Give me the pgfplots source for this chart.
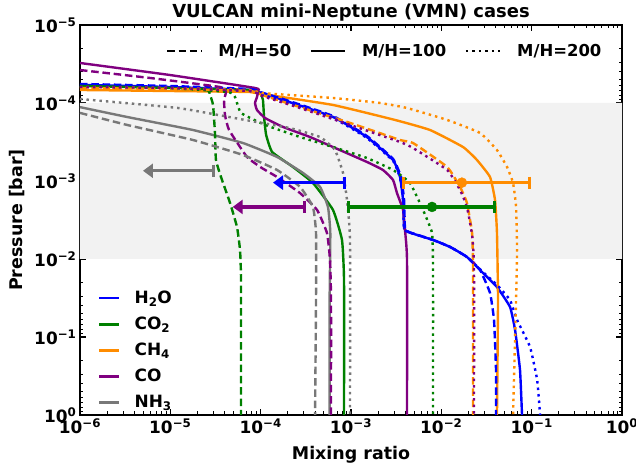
\documentclass[border=0pt]{standalone}
\usepackage{pgfplots}
\pgfplotsset{compat=1.18}
\usepackage{fontspec}
\setmainfont{DejaVu Sans}
\usetikzlibrary{arrows.meta}
\definecolor{cblue}{RGB}{0,0,255}
\definecolor{cgreen}{RGB}{0,128,0}
\definecolor{corange}{RGB}{255,140,0}
\definecolor{cpurple}{RGB}{128,0,128}
\definecolor{cgray}{RGB}{120,120,120}
\definecolor{band}{RGB}{242,242,242}
\newcommand{\fs}[1]{\fontsize{#1}{#1}\selectfont\bfseries}
\pgfplotsset{
  sol/.style={line width=2.4bp, forget plot, smooth, tension=0.25},
  das/.style={line width=2.4bp, dash pattern=on 7.5bp off 3.8bp, forget plot, smooth, tension=0.25},
  dot/.style={line width=2.4bp, dash pattern=on 2.5bp off 4bp, forget plot, smooth, tension=0.25},
  arr/.style={line width=3.4bp, forget plot},
}
\begin{document}
\begin{tikzpicture}[x=1bp,y=1bp]
\path[use as bounding box] (0,0) rectangle (636,468);
\begin{axis}[
  at={(80bp,53bp)}, anchor=south west,
  scale only axis, width=542bp, height=390bp,
  xmode=log, ymode=log, y dir=reverse,
  xmin=1e-6, xmax=1, ymin=1e-5, ymax=1,
  xtick={1e-6,1e-5,1e-4,1e-3,1e-2,1e-1,1},
  xticklabels={10\textsuperscript{−6},10\textsuperscript{−5},10\textsuperscript{−4},10\textsuperscript{−3},10\textsuperscript{−2},10\textsuperscript{−1},10\textsuperscript{0}},
  ytick={1e-5,1e-4,1e-3,1e-2,1e-1,1},
  yticklabels={10\textsuperscript{−5},10\textsuperscript{−4},10\textsuperscript{−3},10\textsuperscript{−2},10\textsuperscript{−1},10\textsuperscript{0}},
  minor xtick={2e-6,3e-6,4e-6,5e-6,6e-6,7e-6,8e-6,9e-6,2e-5,3e-5,4e-5,5e-5,6e-5,7e-5,8e-5,9e-5,2e-4,3e-4,4e-4,5e-4,6e-4,7e-4,8e-4,9e-4,2e-3,3e-3,4e-3,5e-3,6e-3,7e-3,8e-3,9e-3,2e-2,3e-2,4e-2,5e-2,6e-2,7e-2,8e-2,9e-2,0.2,0.3,0.4,0.5,0.6,0.7,0.8,0.9},
  minor ytick={2e-5,3e-5,4e-5,5e-5,6e-5,7e-5,8e-5,9e-5,2e-4,3e-4,4e-4,5e-4,6e-4,7e-4,8e-4,9e-4,2e-3,3e-3,4e-3,5e-3,6e-3,7e-3,8e-3,9e-3,2e-2,3e-2,4e-2,5e-2,6e-2,7e-2,8e-2,9e-2,0.2,0.3,0.4,0.5,0.6,0.7,0.8,0.9},
  tick pos=both, tick align=inside,
  major tick length=6bp, minor tick length=3.5bp,
  major tick style={line width=1.5bp, black},
  minor tick style={line width=1bp, black},
  axis line style={line width=2bp},
  tick label style={font=\fs{17}},
  xlabel={Mixing ratio}, ylabel={Pressure [bar]},
  label style={font=\fs{17.5}},
  xlabel style={at={(axis description cs:0.5,-0.1026)}, anchor=center},
  ylabel style={at={(axis description cs:-0.1162,0.5)}, anchor=center},
  clip mode=individual,
  legend style={draw=none, fill=none, at={(0.033,0.323)}, anchor=north west,
    font=\fs{17}, inner sep=0pt, row sep=8bp,
    /tikz/every odd column/.append style={column sep=12bp}},
  legend cell align=left,
  legend image code/.code={\draw[#1, line width=2.5bp] (0bp,0bp) -- (20bp,0bp);},
]
% shaded pressure band
\addplot[draw=none, fill=band, forget plot] coordinates {(1e-6,1e-4) (1,1e-4) (1,1e-2) (1e-6,1e-2) (1e-6,1e-4)};

% ---------- M/H = 100 (solid) ----------
\addplot[cblue, sol] coordinates {(1e-6,5.87e-5) (9.91e-6,6.24e-5) (7.62e-5,6.81e-5) (9.84e-5,7.45e-5) (1.77e-4,9.15e-5) (6.32e-4,1.51e-4) (1.50e-3,2.73e-4) (2.92e-3,5.38e-4) (3.49e-3,8.89e-4) (3.77e-3,1.75e-3) (3.87e-3,4.01e-3) (4.28e-3,4.51e-3) (8.09e-3,5.70e-3) (1.25e-2,7.01e-3) (1.92e-2,9.42e-3) (2.89e-2,1.51e-2) (4.13e-2,2.29e-2) (5.76e-2,4.12e-2) (6.55e-2,8.13e-2) (7.43e-2,0.265) (7.82e-2,1)};
\addplot[cgreen, sol] coordinates {(1e-6,6.05e-5) (9.91e-6,6.42e-5) (7.62e-5,6.81e-5) (9.84e-5,7.45e-5) (1.06e-4,9.15e-5) (1.09e-4,1.51e-4) (1.15e-4,2.57e-4) (1.34e-4,4.25e-4) (2.28e-4,6.62e-4) (3.79e-4,1.06e-3) (6.32e-4,2.35e-3) (7.95e-4,5.70e-3) (8.37e-4,1.86e-2) (8.37e-4,1)};
\addplot[corange, sol] coordinates {(1e-6,6.81e-5) (9.91e-6,7.02e-5) (7.62e-5,7.23e-5) (1.03e-4,7.67e-5) (6.32e-4,1.06e-4) (3.07e-3,1.65e-4) (7.50e-3,2.22e-4) (1.74e-2,3.67e-4) (2.48e-2,5.38e-4) (3.46e-2,8.89e-4) (3.93e-2,1.75e-3) (4.13e-2,4.64e-3) (4.24e-2,3.36e-2) (4.13e-2,1)};
\addplot[cpurple, sol] coordinates {(1e-6,3.07e-5) (9.91e-6,4.38e-5) (8.66e-5,6.42e-5) (9.35e-5,7.02e-5) (9.11e-5,8.38e-5) (8.66e-5,1.0e-4) (9.11e-5,1.23e-4) (1.12e-4,1.56e-4) (1.77e-4,2.03e-4) (3.52e-4,2.73e-4) (6.32e-4,3.67e-4) (1.50e-3,5.70e-4) (2.26e-3,7.23e-4) (2.92e-3,9.70e-4) (3.23e-3,1.43e-3) (3.77e-3,2.35e-3) (3.96e-3,4.25e-3) (4.17e-3,1.03e-2) (4.17e-3,1)};
\addplot[cgray, sol] coordinates {(1e-6,1.13e-4) (3.31e-6,1.51e-4) (1.78e-5,2.22e-4) (6.37e-5,3.26e-4) (1.52e-4,4.92e-4) (2.94e-4,7.89e-4) (4.54e-4,1.19e-3) (5.56e-4,2.15e-3) (5.9e-4,4.64e-3) (5.8e-4,3.36e-2) (5.8e-4,1)};

% ---------- M/H = 50 (dashed) ----------
\addplot[cblue, das] coordinates {(1e-6,5.70e-5) (9.91e-6,6.05e-5) (7.62e-5,6.62e-5) (9.84e-5,7.23e-5) (1.77e-4,8.89e-5) (6.32e-4,1.47e-4) (1.50e-3,2.65e-4) (2.92e-3,5.22e-4) (3.58e-3,8.89e-4) (3.87e-3,1.75e-3) (3.96e-3,4.01e-3) (4.39e-3,4.51e-3) (8.09e-3,5.70e-3) (1.25e-2,7.01e-3) (1.92e-2,9.42e-3) (2.68e-2,1.38e-2) (3.46e-2,2.73e-2) (3.83e-2,6.05e-2) (4.03e-2,0.265) (4.03e-2,1)};
\addplot[cgreen, das] coordinates {(1e-6,6.05e-5) (5.96e-6,6.42e-5) (2.48e-5,6.81e-5) (2.75e-5,7.89e-5) (2.97e-5,1.06e-4) (3.12e-5,2.42e-4) (3.20e-5,5.38e-4) (3.64e-5,8.89e-4) (4.58e-5,1.91e-3) (5.47e-5,3.89e-3) (5.91e-5,7.67e-3) (6.06e-5,1.86e-2) (6.06e-5,1)};
\addplot[corange, das] coordinates {(1e-6,6.42e-5) (9.91e-6,6.62e-5) (7.62e-5,7.02e-5) (1.03e-4,7.89e-5) (2.73e-4,1.13e-4) (9.75e-4,1.80e-4) (3.49e-3,2.98e-4) (4.86e-3,3.26e-4) (1.16e-2,6.62e-4) (1.61e-2,1.19e-3) (1.92e-2,1.91e-3) (2.19e-2,4.64e-3) (2.24e-2,1.27e-2) (2.24e-2,1)};
\addplot[cpurple, das] coordinates {(1e-6,3.78e-5) (5.96e-6,4.78e-5) (3.55e-5,6.24e-5) (4.13e-5,7.23e-5) (3.93e-5,9.15e-5) (4.03e-5,1.43e-4) (4.47e-5,2.22e-4) (7.06e-5,4.92e-4) (1.03e-4,6.81e-4) (1.52e-4,8.89e-4) (2.73e-4,1.43e-3) (4.21e-4,2.35e-3) (5.42e-4,4.64e-3) (5.86e-4,1.03e-2) (6.01e-4,3.36e-2) (6.01e-4,1)};
\addplot[cgray, das] coordinates {(1e-6,1.34e-4) (3.31e-6,1.91e-4) (1.78e-5,2.98e-4) (6.37e-5,4.64e-4) (1.52e-4,7.23e-4) (2.73e-4,1.19e-3) (3.79e-4,2.15e-3) (4.10e-4,4.64e-3) (4.10e-4,3.36e-2) (4.0e-4,1)};

% ---------- M/H = 200 (dotted) ----------
\addplot[cblue, dot] coordinates {(1e-6,6.05e-5) (9.91e-6,6.42e-5) (7.62e-5,7.02e-5) (9.84e-5,7.67e-5) (1.77e-4,9.43e-5) (6.32e-4,1.56e-4) (1.50e-3,2.81e-4) (2.92e-3,5.54e-4) (3.49e-3,9.16e-4) (3.77e-3,1.75e-3) (3.87e-3,4.01e-3) (4.28e-3,4.51e-3) (8.09e-3,5.70e-3) (1.25e-2,7.01e-3) (1.92e-2,9.42e-3) (2.89e-2,1.47e-2) (4.13e-2,2.15e-2) (5.76e-2,3.36e-2) (6.89e-2,6.05e-2) (9.59e-2,0.134) (0.115,0.356) (0.124,1)};
\addplot[cgreen, dot] coordinates {(1e-6,6.05e-5) (9.91e-6,6.42e-5) (4.35e-5,7.23e-5) (5.20e-5,8.38e-5) (6.06e-5,1.34e-4) (1.12e-4,1.91e-4) (2.73e-4,2.73e-4) (6.32e-4,3.67e-4) (1.50e-3,5.07e-4) (2.92e-3,7.23e-4) (4.50e-3,1.06e-3) (6.27e-3,2.35e-3) (7.89e-3,4.64e-3) (8.09e-3,1.27e-2) (8.09e-3,1)};
\addplot[corange, dot] coordinates {(1e-6,6.24e-5) (9.91e-6,6.42e-5) (7.62e-5,6.81e-5) (1.03e-4,7.45e-5) (6.32e-4,8.63e-5) (2.10e-3,1.0e-4) (4.17e-3,1.16e-4) (1.16e-2,1.65e-4) (2.68e-2,2.42e-4) (4.13e-2,4.01e-4) (5.34e-2,6.62e-4) (6.22e-2,1.06e-3) (6.72e-2,2.15e-3) (6.89e-2,7.67e-3) (6.72e-2,3.36e-2) (6.22e-2,1)};
\addplot[cpurple, dot] coordinates {(1e-6,6.24e-5) (9.91e-6,6.42e-5) (7.62e-5,7.02e-5) (1.03e-4,8.13e-5) (2.73e-4,1.16e-4) (9.75e-4,1.91e-4) (3.49e-3,3.16e-4) (4.86e-3,3.78e-4) (1.16e-2,7.23e-4) (1.61e-2,1.30e-3) (1.92e-2,2.15e-3) (2.19e-2,4.92e-3) (2.30e-2,1.27e-2) (2.30e-2,1)};
\addplot[cgray, dot] coordinates {(1e-6,8.89e-5) (1.22e-5,1.16e-4) (6.71e-5,1.65e-4) (2.11e-4,2.10e-4) (4.54e-4,2.73e-4) (6.65e-4,4.01e-4) (8.16e-4,7.89e-4) (9.03e-4,1.75e-3) (9.75e-4,5.70e-3) (9.75e-4,1)};

% ---------- observational constraints ----------
\addplot[cgray, arr, {Bar[width=12bp]}-{Triangle[width=14bp,length=10bp]}] coordinates {(3.12e-5,7.4e-4) (4.98e-6,7.4e-4)};
\addplot[cblue, arr, {Bar[width=12bp]}-{Triangle[width=14bp,length=10bp]}] coordinates {(8.81e-4,1.05e-3) (1.37e-4,1.05e-3)};
\addplot[cpurple, arr, {Bar[width=12bp]}-{Triangle[width=14bp,length=10bp]}] coordinates {(3.18e-4,2.15e-3) (4.9e-5,2.15e-3)};
\addplot[corange, arr, {Bar[width=12bp]}-{Bar[width=12bp]}] coordinates {(3.67e-3,1.05e-3) (9.9e-2,1.05e-3)};
\addplot[corange, only marks, mark=*, mark size=5bp, forget plot] coordinates {(1.69e-2,1.05e-3)};
\addplot[cgreen, arr, {Bar[width=12bp]}-{Bar[width=12bp]}] coordinates {(9.03e-4,2.15e-3) (4.03e-2,2.15e-3)};
\addplot[cgreen, only marks, mark=*, mark size=5bp, forget plot] coordinates {(7.89e-3,2.15e-3)};

% colour legend
\addlegendimage{cblue}\addlegendentry{H\textsubscript{2}O}
\addlegendimage{cgreen}\addlegendentry{CO\textsubscript{2}}
\addlegendimage{corange}\addlegendentry{CH\textsubscript{4}}
\addlegendimage{cpurple}\addlegendentry{CO}
\addlegendimage{cgray}\addlegendentry{NH\textsubscript{3}}

% title
\node[font=\fs{18}, anchor=center] at (axis description cs:0.5,1.033) {VULCAN mini-Neptune (VMN) cases};
\end{axis}

% line-style legend
\begin{axis}[
  at={(80bp,53bp)}, anchor=south west,
  scale only axis, width=542bp, height=390bp,
  hide axis, xmin=0, xmax=1, ymin=0, ymax=1,
  legend columns=3,
  legend style={draw=none, fill=none, at={(0.966,0.934)}, anchor=east,
    font=\fs{16.5}, inner sep=0pt,
    /tikz/every odd column/.append style={column sep=14bp},
    /tikz/every even column/.append style={column sep=16.5bp}},
  legend image code/.code={\draw[#1, line width=2.4bp] (0bp,0bp) -- (34bp,0bp);},
]
\addlegendimage{black, dash pattern=on 7.5bp off 3.8bp}\addlegendentry{M/H=50}
\addlegendimage{black}\addlegendentry{M/H=100}
\addlegendimage{black, dash pattern=on 2.5bp off 4bp}\addlegendentry{M/H=200}
\end{axis}
\end{tikzpicture}
\end{document}
